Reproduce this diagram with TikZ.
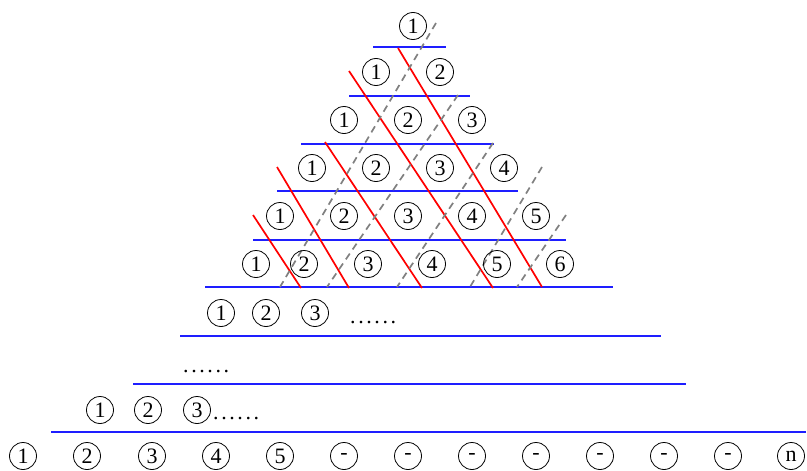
\documentclass[tikz,border=0pt]{standalone}
\usepackage{fontspec}
\setmainfont{Liberation Serif}
\newcommand\sixdots{.\kern2.6pt.\kern2.6pt.\kern2.6pt.\kern2.6pt.\kern2.6pt.}
\begin{document}
\begin{tikzpicture}[x=1pt,y=-1pt,
  num/.style={circle,draw,line width=0.8pt,minimum size=27pt,inner sep=0pt,font=\fontsize{22}{22}\selectfont},
  dotstext/.style={anchor=base west,inner sep=0pt,font=\fontsize{22}{22}\selectfont},
  blueline/.style={draw={rgb,255:red,30;green,30;blue,255},line width=2.1pt},
  redline/.style={draw=red,line width=1.7pt},
  grayline/.style={draw=gray,line width=1.7pt,dash pattern=on 7pt off 5pt}]
\useasboundingbox (0,0) rectangle (807,471);
% blue lines
\draw[blueline] (373,47) -- (446,47);
\draw[blueline] (349,96) -- (470,96);
\draw[blueline] (301,144) -- (494,144);
\draw[blueline] (277,191) -- (518,191);
\draw[blueline] (253,240) -- (566,240);
\draw[blueline] (205,287) -- (613,287);
\draw[blueline] (180,336) -- (661,336);
\draw[blueline] (133,384) -- (686,384);
\draw[blueline] (51,432) -- (806,432);
% red lines
\draw[redline] (398,48) -- (542,287);
\draw[redline] (349,71) -- (493,288);
\draw[redline] (325,142) -- (422,288);
\draw[redline] (277,167) -- (349,288);
\draw[redline] (253,215) -- (301,288);
% gray dashed lines
\draw[grayline] (436,23) -- (280,287);
\draw[grayline] (458,95) -- (327,287);
\draw[grayline] (493,143) -- (397,287);
\draw[grayline] (542,167) -- (470,287);
\draw[grayline] (566,215) -- (517,287);
% triangle circles
\node[num] (r1a) at (413,26) {1};
\node[num] (r2a) at (376,72) {1};
\node[num] (r2b) at (440,72) {2};
\foreach \x/\t [count=\i] in {344/1,408/2,472/3} \node[num] (r3-\i) at (\x,120) {\t};
\foreach \x/\t [count=\i] in {312/1,376/2,440/3,504/4} \node[num] (r4-\i) at (\x,168) {\t};
\foreach \x/\t [count=\i] in {280/1,344/2,408/3,472/4,536/5} \node[num] (r5-\i) at (\x,216) {\t};
\foreach \x/\t [count=\i] in {256/1,304/2,368/3,432/4,497/5,560/6} \node[num] (r6-\i) at (\x,264) {\t};
% lower rows
\foreach \x/\t [count=\i] in {221/1,266/2,315/3} \node[num] (r7-\i) at (\x,313) {\t};
\node[dotstext] (r7d) at (350,323) {\sixdots};
\node[dotstext] (r8d) at (183,372) {\sixdots};
\foreach \x/\t [count=\i] in {100/1,148/2,197/3} \node[num] (r9-\i) at (\x,410) {\t};
\node[dotstext] (r9d) at (213,419) {\sixdots};
% bottom row
\foreach \x/\t [count=\i] in {23/1,87/2,152/3,216/4,280/5,344/-,408/-,472/-,536/-,600/-,664/-,728/-,791/n}
  \node[num] (b-\i) at (\x,456) {\t};
\end{tikzpicture}
\end{document}
